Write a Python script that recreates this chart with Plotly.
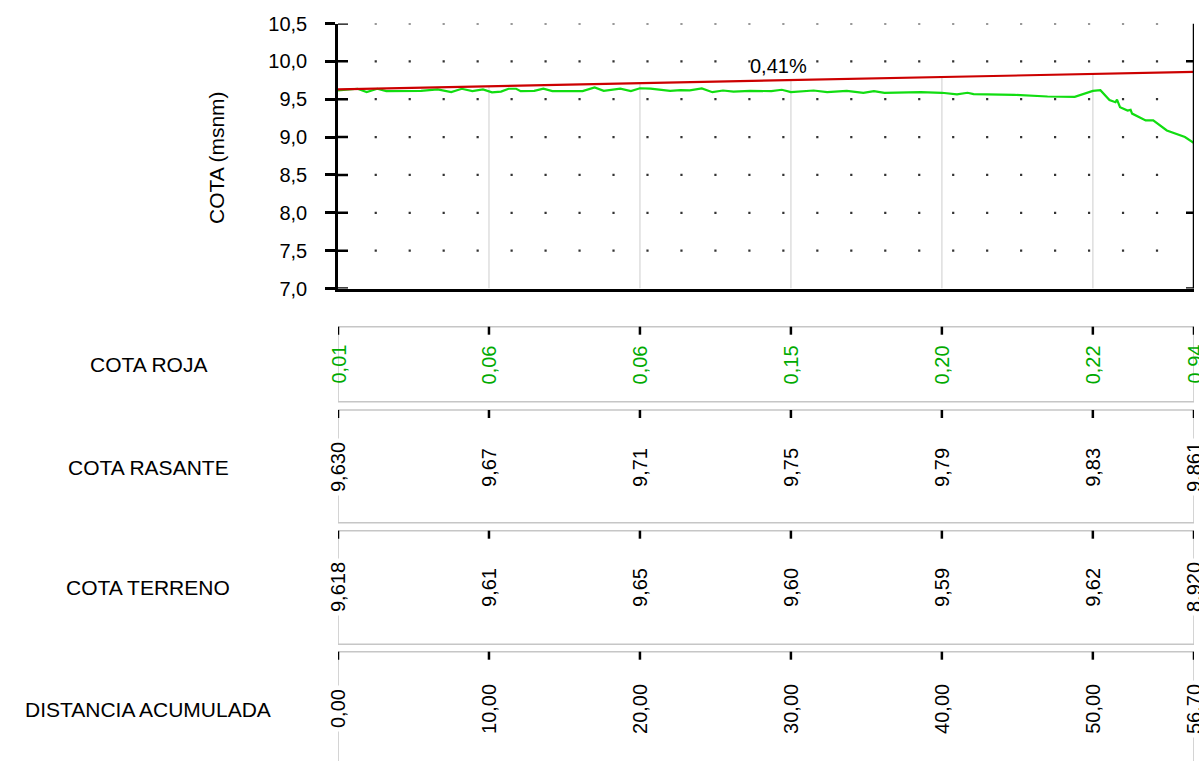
import plotly.graph_objects as go

# ---------------- data ----------------
dist_ticks = [0.0, 10.0, 20.0, 30.0, 40.0, 50.0, 56.70]
roja_lbl = ["0,01", "0,06", "0,06", "0,15", "0,20", "0,22", "0,94"]
rasante_lbl = ["9,630", "9,67", "9,71", "9,75", "9,79", "9,83", "9,861"]
terreno_lbl = ["9,618", "9,61", "9,65", "9,60", "9,59", "9,62", "8,920"]
dist_lbl = ["0,00", "10,00", "20,00", "30,00", "40,00", "50,00", "56,70"]

ras_x = [0.0, 56.70]
ras_y = [9.630, 9.861]
slope_lbl = "0,41%"

terr_x = [0.0, 0.6, 1.3, 1.9, 2.6, 3.2, 4.5, 5.5, 6.6, 7.5, 8.2, 8.9, 9.6, 10.0, 10.2,
          10.8, 11.3, 11.8, 12.1, 13.0, 13.6, 14.2, 16.2, 17.0, 17.6, 18.7, 19.4, 20.0,
          20.7, 22.0, 22.7, 23.3, 24.1, 24.8, 25.5, 26.2, 27.3, 28.7, 29.4, 30.0, 31.5,
          32.4, 33.7, 34.8, 35.5, 36.2, 38.6, 40.0, 41.0, 41.7, 42.1, 44.8, 47.0, 48.8,
          50.0, 50.5, 51.1, 51.5, 51.6, 51.8, 52.3, 52.5, 52.6, 53.5, 54.0, 54.9, 56.1, 56.7]
terr_y = [9.618, 9.630, 9.638, 9.595, 9.638, 9.607, 9.607, 9.610, 9.630, 9.595, 9.638, 9.607,
          9.630, 9.610, 9.590, 9.600, 9.638, 9.638, 9.607, 9.610, 9.640, 9.607, 9.607, 9.655,
          9.610, 9.640, 9.607, 9.645, 9.640, 9.610, 9.620, 9.618, 9.642, 9.593, 9.615, 9.600,
          9.610, 9.607, 9.625, 9.595, 9.615, 9.593, 9.610, 9.585, 9.607, 9.585, 9.593, 9.585,
          9.563, 9.585, 9.567, 9.558, 9.536, 9.532, 9.610, 9.620, 9.490, 9.460, 9.495, 9.395,
          9.350, 9.360, 9.310, 9.220, 9.220, 9.087, 9.000, 8.920]

y_ticks = [7.0, 7.5, 8.0, 8.5, 9.0, 9.5, 10.0, 10.5]
y_right_ticks = [7.0, 8.0, 10.0]
y_title = "COTA (msnm)"
band_names = ["COTA ROJA", "COTA RASANTE", "COTA TERRENO", "DISTANCIA ACUMULADA"]

# ---------------- layout geometry (pixels) ----------------
W, H = 1199, 761
L, R = 338, 5
PLOT_TOP, PLOT_BOT = 23.5, 288.5
FONT = "Liberation Sans, Arial, sans-serif"
GREEN_TXT = "#00aa00"


def py(p):
    return 1 - p / H


def pxp(p):
    return (p - L) / (W - L - R)


def ras_at(x):
    return ras_y[0] + (ras_y[1] - ras_y[0]) * (x - ras_x[0]) / (ras_x[1] - ras_x[0])


fig = go.Figure()

# dotted grid
dot_x = [2.5 + 2.25 * k for k in range(24)]
gx, gy = [], []
for yv in y_ticks[1:]:
    for xv in dot_x:
        gx.append(xv)
        gy.append(yv)
fig.add_trace(go.Scatter(x=gx, y=gy, mode="markers",
                         marker=dict(size=2.2, color="#333333", symbol="square"),
                         hoverinfo="skip", showlegend=False))

# vertical light grid lines at distance ticks
vx, vy = [], []
for d in dist_ticks[1:-1]:
    vx += [d, d, None]
    vy += [y_ticks[0], ras_at(d), None]
fig.add_trace(go.Scatter(x=vx, y=vy, mode="lines",
                         line=dict(color="#dedede", width=1.5),
                         hoverinfo="skip", showlegend=False))

# terrain
fig.add_trace(go.Scatter(x=terr_x, y=terr_y, mode="lines",
                         line=dict(color="#11dd11", width=2.2),
                         showlegend=False))
# rasante
fig.add_trace(go.Scatter(x=ras_x, y=ras_y, mode="lines",
                         line=dict(color="#cc0000", width=2.2),
                         showlegend=False))

shapes = []
annotations = []

# inner half of left y ticks (crossing ticks)
for yv in y_ticks:
    shapes.append(dict(type="line", xref="x", yref="y", xsizemode="pixel", xanchor=0,
                       x0=0, x1=10, y0=yv, y1=yv, line=dict(color="black", width=2.5)))
# right axis line + ticks
shapes.append(dict(type="line", xref="x", yref="y", x0=dist_ticks[-1], x1=dist_ticks[-1],
                   y0=y_ticks[0], y1=y_ticks[-1], line=dict(color="black", width=2.5)))
for yv in y_right_ticks:
    shapes.append(dict(type="line", xref="x", yref="y", xsizemode="pixel", xanchor=dist_ticks[-1],
                       x0=-8, x1=8, y0=yv, y1=yv, line=dict(color="black", width=2.5)))

# slope label
annotations.append(dict(x=29.2, y=9.945, xref="x", yref="y", text=slope_lbl, showarrow=False,
                        xanchor="center", yanchor="middle",
                        font=dict(family=FONT, size=20, color="black")))
# y title
annotations.append(dict(x=pxp(216), y=py(158), xref="paper", yref="paper", text=y_title,
                        textangle=-90, showarrow=False, xanchor="center", yanchor="middle",
                        font=dict(family=FONT, size=21, color="black")))

# bands
bands = [
    (band_names[0], roja_lbl, 326.7, 401.7, 364.5, GREEN_TXT, False),
    (band_names[1], rasante_lbl, 410.0, 522.7, 467.0, "black", True),
    (band_names[2], terreno_lbl, 530.7, 644.3, 587.0, "black", True),
    (band_names[3], dist_lbl, 651.7, 775.0, 709.0, "black", True),
]
for name, labels, top, bot, yc, col, bg in bands:
    shapes.append(dict(type="rect", xref="x", yref="paper", x0=dist_ticks[0], x1=dist_ticks[-1],
                       y0=py(bot), y1=py(top), line=dict(color="#c6c6c6", width=1.5)))
    for d in dist_ticks:
        shapes.append(dict(type="line", xref="x", yref="paper", ysizemode="pixel",
                           yanchor=py(top), x0=d, x1=d, y0=0, y1=-8,
                           line=dict(color="black", width=2.5)))
    for d, t in zip(dist_ticks, labels):
        annotations.append(dict(x=d, y=py(yc), xref="x", yref="paper", text=t, textangle=-90,
                                showarrow=False, xanchor="center", yanchor="middle",
                                bgcolor="white" if bg else None, borderpad=3,
                                font=dict(family=FONT, size=20, color=col)))
    annotations.append(dict(x=pxp(148), y=py(yc), xref="paper", yref="paper", text=name,
                            showarrow=False, xanchor="center", yanchor="middle",
                            font=dict(family=FONT, size=21, color="black")))

fig.update_layout(
    width=W, height=H, autosize=False,
    margin=dict(l=L, r=R, t=0, b=0, autoexpand=False),
    paper_bgcolor="white", plot_bgcolor="white",
    separators=",.",
    font=dict(family=FONT, size=20, color="black"),
    showlegend=False,
    shapes=shapes, annotations=annotations,
    xaxis=dict(range=[dist_ticks[0], dist_ticks[-1]], showgrid=False, zeroline=False,
               showticklabels=False, ticks="", showline=True, linecolor="black", linewidth=2.5,
               automargin=False, fixedrange=True),
    yaxis=dict(domain=[py(PLOT_BOT), py(PLOT_TOP)], range=[y_ticks[0], y_ticks[-1]],
               tickvals=y_ticks, tickformat=".1f", showgrid=False, zeroline=False,
               showline=True, linecolor="black", linewidth=2.5,
               ticks="outside", ticklen=10, tickwidth=2.5, tickcolor="black",
               ticklabelstandoff=14, automargin=False,
               tickfont=dict(family=FONT, size=20, color="black"), fixedrange=True),
)

fig.write_html("out.html", config={"displayModeBar": False},
               post_script="document.body.style.margin='0px';document.body.style.overflow='hidden';")
